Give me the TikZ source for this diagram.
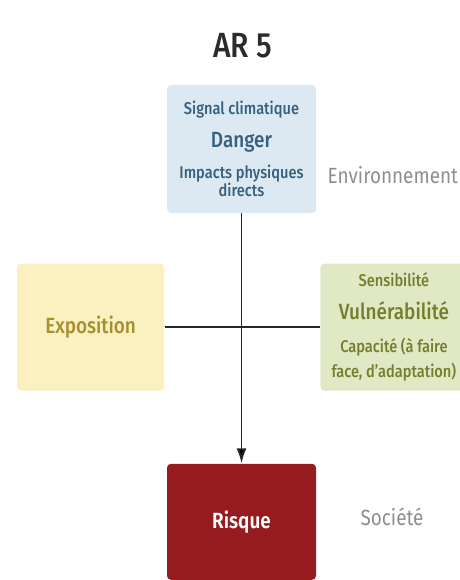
\documentclass[tikz,border=0pt]{standalone}
\usepackage{fontspec}
\setmainfont{Fira Sans}[FakeStretch=0.86, UprightFont=* Medium, BoldFont=* SemiBold]
\newfontfamily\sidefont{Fira Sans}[FakeStretch=0.86]
\usetikzlibrary{arrows.meta,positioning}
\definecolor{dangerfill}{HTML}{DCE9F2}
\definecolor{dangertext}{HTML}{36607E}
\definecolor{expofill}{HTML}{FAF0C0}
\definecolor{expotext}{HTML}{A58F2E}
\definecolor{vulnfill}{HTML}{E0E8C4}
\definecolor{vulntext}{HTML}{767E2E}
\definecolor{risquefill}{HTML}{951B1E}
\definecolor{sidetext}{HTML}{8E8E8E}
\definecolor{titretext}{HTML}{2B2B2B}
\newcommand{\fs}[1]{\fontsize{#1}{#1}\selectfont}

\begin{document}
\begin{tikzpicture}[x=1pt,y=-1pt,thick,
	box/.style={rectangle,rounded corners=4pt,inner sep=2pt,align=center,minimum width=147pt,minimum height=127pt},
	side/.style={text=sidetext,font=\sidefont\fs{22}},
	link/.style={draw=black!85,line width=1.8pt}]
				\useasboundingbox (0,0) rectangle (459,580);
				\node[text=titretext] (titre) at (243,46) {\fs{35}AR 5};
				\node[box,fill=dangerfill,text=dangertext,minimum width=149pt,minimum height=128pt] (danger) at (241.5,149)
					{\fs{17}Signal climatique\\[13pt]\fs{22}Danger\\[11pt]\fs{17}Impacts physiques\\\fs{17}directs};
				\coordinate (croix) at (241.5,327);
				\node[box,fill=expofill,text=expotext,left=77pt of croix] (expo) {\fs{22}Exposition};
				\node[box,fill=vulnfill,text=vulntext,right=78.5pt of croix] (vuln)
					{\fs{17}Sensibilité\\[14pt]\fs{22}Vulnérabilité\\[17pt]\fs{17}Capacité (à faire\\[6pt]\fs{17}face, d'adaptation)};
				\node[box,fill=risquefill,text=white,minimum width=149pt,minimum height=116pt,below=250pt of danger] (risque) {\fs{22}\bfseries Risque};
				\node[side,anchor=west] (env) at (324,175) {Environnement};
				\node[side] (societe) at (392,517) {Société};
				\path[link]
				(expo) edge (vuln)
				(danger) edge[-{Latex[length=15pt,width=10pt]}] (risque);
			\end{tikzpicture}
\end{document}
